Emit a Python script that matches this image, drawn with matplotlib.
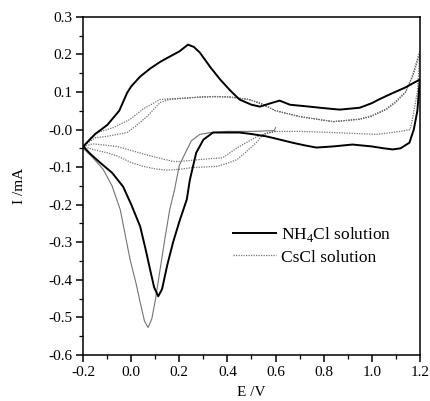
import numpy as np
import matplotlib
matplotlib.use('Agg')
import matplotlib.pyplot as plt

plt.rcParams['font.family'] = 'Liberation Serif'
plt.rcParams['mathtext.fontset'] = 'custom'
plt.rcParams['mathtext.rm'] = 'Liberation Serif'
plt.rcParams['axes.unicode_minus'] = False

# NH4Cl, steady cycle (thick line): anodic sweep then cathodic sweep
nh4_E = [-0.2, -0.15, -0.1, -0.05, -0.017, 0.0, 0.037, 0.08, 0.12, 0.148, 0.2, 0.22, 0.236,
         0.26, 0.285, 0.33, 0.37, 0.41, 0.45, 0.5, 0.535, 0.58, 0.617, 0.66, 0.74, 0.8, 0.867,
         0.95, 1.0, 1.03, 1.08, 1.14, 1.2,
         1.19, 1.175, 1.157, 1.12, 1.087, 1.05, 1.0, 0.92, 0.84, 0.77, 0.72, 0.67, 0.6, 0.56,
         0.5, 0.45, 0.4, 0.34, 0.3, 0.27, 0.244, 0.231, 0.2, 0.174, 0.15, 0.128, 0.112, 0.095,
         0.078, 0.06, 0.037, 0.0, -0.034, -0.08, -0.13, -0.17, -0.2]
nh4_I = [-0.045, -0.012, 0.012, 0.05, 0.098, 0.115, 0.141, 0.163, 0.18, 0.19, 0.208, 0.218, 0.226,
         0.22, 0.205, 0.165, 0.133, 0.105, 0.08, 0.066, 0.061, 0.07, 0.077, 0.066, 0.061, 0.057, 0.053,
         0.058, 0.07, 0.08, 0.095, 0.112, 0.133,
         0.05, 0.0, -0.035, -0.05, -0.053, -0.05, -0.045, -0.04, -0.045, -0.048, -0.042, -0.035, -0.024, -0.018,
         -0.012, -0.008, -0.008, -0.008, -0.027, -0.062, -0.133, -0.186, -0.245, -0.3, -0.36, -0.425, -0.444, -0.42,
         -0.372, -0.32, -0.258, -0.2, -0.152, -0.115, -0.088, -0.065, -0.045]

# NH4Cl, first cathodic sweep from 0.6 V (thin line)
nh4_first_E = [0.6, 0.595, 0.5, 0.4, 0.33, 0.285, 0.25, 0.232, 0.2, 0.18, 0.16, 0.14, 0.12, 0.1,
               0.085, 0.07, 0.055, 0.037, 0.02, -0.005, -0.046, -0.08, -0.117, -0.16, -0.2]
nh4_first_I = [0.005, -0.003, -0.005, -0.005, -0.008, -0.013, -0.03, -0.053, -0.095, -0.16, -0.213,
               -0.29, -0.372, -0.455, -0.505, -0.527, -0.51, -0.46, -0.41, -0.346, -0.213, -0.15,
               -0.106, -0.075, -0.05]

# CsCl (dotted), two cycles starting at 0.6 V
cs_E = [0.6, 0.55, 0.52, 0.48, 0.44, 0.4, 0.355, 0.3, 0.257, 0.2, 0.148, 0.1, 0.05, 0.0, -0.06, -0.1, -0.16, -0.2,
        -0.15, -0.1, -0.05, -0.017, 0.02, 0.066, 0.12, 0.16, 0.2, 0.257, 0.3, 0.356, 0.41, 0.49, 0.54, 0.6,
        0.7, 0.84, 0.95, 1.0, 1.06, 1.1, 1.14, 1.17, 1.2,
        1.19, 1.17, 1.16, 1.12, 1.02, 0.84, 0.7, 0.6, 0.575, 0.52, 0.45, 0.38, 0.285, 0.2, 0.174, 0.078,
        -0.06, -0.16, -0.2,
        -0.15, -0.1, -0.075, -0.005, 0.05, 0.12, 0.2, 0.3, 0.41, 0.49, 0.54, 0.6, 0.7, 0.84, 0.95, 1.0,
        1.06, 1.1, 1.14, 1.17, 1.2]
cs_I = [-0.005, -0.012, -0.035, -0.058, -0.08, -0.09, -0.098, -0.1, -0.101, -0.106, -0.108, -0.105, -0.098, -0.088,
        -0.07, -0.062, -0.053, -0.045,
        -0.022, -0.018, -0.012, -0.008, 0.01, 0.035, 0.072, 0.08, 0.082, 0.085, 0.087, 0.088, 0.086, 0.08, 0.07, 0.05,
        0.035, 0.021, 0.027, 0.035, 0.053, 0.072, 0.098, 0.14, 0.2,
        0.1, 0.03, 0.0, -0.005, -0.013, -0.008, -0.005, -0.005, -0.008, -0.02, -0.045, -0.075, -0.08, -0.085,
        -0.085, -0.07, -0.045, -0.038, -0.045,
        -0.01, 0.0, 0.005, 0.027, 0.055, 0.08, 0.083, 0.087, 0.087, 0.08, 0.068, 0.05, 0.034, 0.021, 0.028,
        0.037, 0.055, 0.075, 0.1, 0.145, 0.21]

fig = plt.figure(figsize=(4.31, 4.01), dpi=100)
ax = fig.add_axes([0.193, 0.115, 0.781, 0.843])

ax.plot(cs_E, cs_I, color='0.45', lw=0.9, ls=(0, (1, 1)), label='CsCl solution')
ax.plot(nh4_first_E, nh4_first_I, color='0.45', lw=0.8)
ax.plot(nh4_E, nh4_I, color='black', lw=1.4, label=r'NH$_\mathregular{4}$Cl solution')

ax.set_xlim(-0.2, 1.2)
ax.set_ylim(-0.6, 0.3)
ax.set_xticks(np.arange(-0.2, 1.21, 0.2))
ax.set_xticks(np.arange(-0.2, 1.21, 0.1), minor=True)
ax.set_yticks(np.arange(-0.6, 0.31, 0.1))
ax.set_yticks(np.arange(-0.6, 0.31, 0.05), minor=True)
ax.xaxis.set_major_formatter(matplotlib.ticker.FormatStrFormatter('%.1f'))
ax.yaxis.set_major_formatter(matplotlib.ticker.FormatStrFormatter('%.1f'))
ax.tick_params(which='both', direction='out', top=False, right=False, labelsize=11, pad=3)
ax.tick_params(which='major', length=5, width=1.1)
ax.tick_params(which='minor', length=3, width=0.9)
for s in ax.spines.values():
    s.set_linewidth(1.1)

ax.set_xlabel('E /V', fontsize=11, labelpad=5)
ax.set_ylabel('I /mA', fontsize=11, labelpad=16)

h, l = ax.get_legend_handles_labels()
ax.legend(h[::-1], l[::-1], loc='upper left', bbox_to_anchor=(0.398, 0.43), frameon=False,
          fontsize=12.5, handlelength=2.5, handletextpad=0.3, labelspacing=0.3)

fig.savefig('out.png', dpi=100)
